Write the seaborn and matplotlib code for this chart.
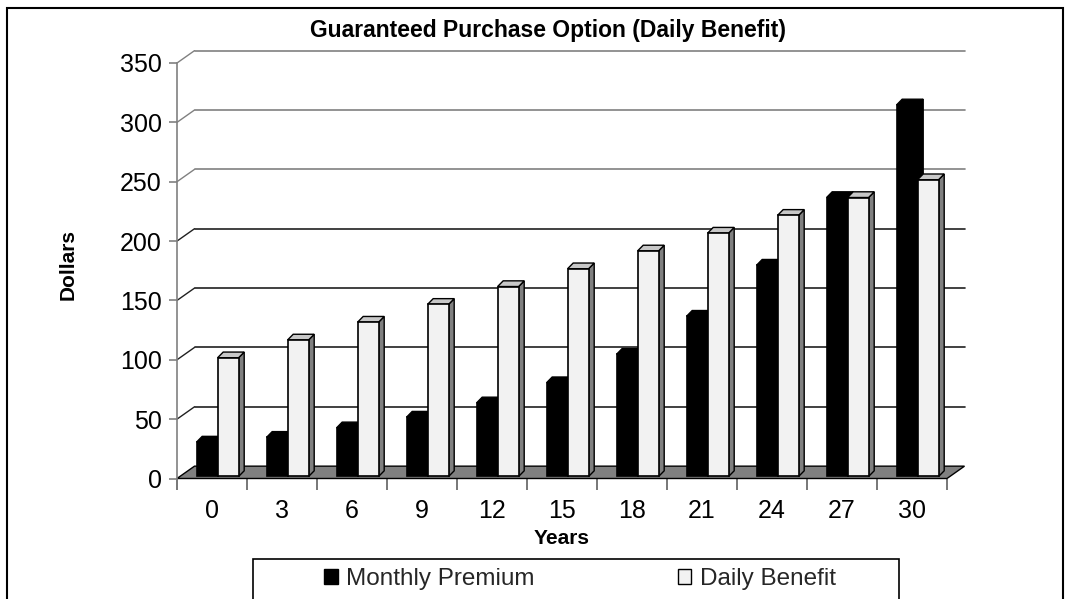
import matplotlib
matplotlib.use("Agg")
import matplotlib.pyplot as plt
from matplotlib.patches import Polygon, Rectangle, Patch
from matplotlib.lines import Line2D
import seaborn as sns
import pandas as pd
import numpy as np

# ---- data ----
years = ["0", "3", "6", "9", "12", "15", "18", "21", "24", "27", "30"]
monthly_premium = [29, 33, 41, 50, 62, 79, 103, 135, 178, 235, 313]
daily_benefit = [100, 115, 130, 145, 160, 175, 190, 205, 220, 235, 250]
series_names = ["Monthly Premium", "Daily Benefit"]
y_ticks = [0, 50, 100, 150, 200, 250, 300, 350]

df = pd.DataFrame({
    "Years": years * 2,
    "Dollars": monthly_premium + daily_benefit,
    "Series": [series_names[0]] * len(years) + [series_names[1]] * len(years),
})

sns.set_theme(style="white")
plt.rcParams["font.family"] = ["Liberation Sans", "DejaVu Sans"]

W, H = 1065, 599
fig = plt.figure(figsize=(W / 100, H / 100), dpi=100)
fig.patch.set_facecolor("white")

# axes = front plane of the 3-D chart
ax_l, ax_r, ax_top, ax_bot = 177, 947, 63, 478.5
ax = fig.add_axes([ax_l / W, (H - ax_bot) / H, (ax_r - ax_l) / W, (ax_bot - ax_top) / H])
ax.set_facecolor("none")

front_col = "black"
light_col = "#F2F2F2"
sns.barplot(data=df, x="Years", y="Dollars", hue="Series", palette=[front_col, light_col],
            width=0.6, edgecolor="black", linewidth=1.2, saturation=1, legend=False, ax=ax)

n = len(years)
ax.set_xlim(-0.5, n - 0.5)
ax.set_ylim(0, 350)

# wall depth (category units / data units)
Dx, Dy = 0.25, 10.4
# bar depth
bdx, bdy = 0.08, 4.8
# bars set back a little from the front edge of the floor
ox, oy = 0.08, 1.7

# back wall gridlines and left-wall diagonals
for v in y_ticks[1:]:
    c = "#808080" if v >= 250 else "#202020"
    ax.add_line(Line2D([-0.5 + Dx, n - 0.5 + Dx], [v + Dy, v + Dy], color=c, lw=1.2,
                       clip_on=False, zorder=0.5))
    ax.add_line(Line2D([-0.5, -0.5 + Dx], [v, v + Dy], color=c, lw=1.0,
                       clip_on=False, zorder=0.5))

# floor
floor = Polygon([[-0.5, 0], [n - 0.5, 0], [n - 0.5 + Dx, Dy], [-0.5 + Dx, Dy]],
                closed=True, facecolor="#808080", edgecolor="black", lw=1.0,
                clip_on=False, zorder=1)
ax.add_patch(floor)

# 3-D faces of bars
for k, cont in enumerate(ax.containers):
    for p in cont.patches:
        p.set_x(p.get_x() + ox)
        p.set_y(oy)
        p.set_clip_on(False)
        x, w, h = p.get_x(), p.get_width(), p.get_height()
        top = oy + h
        if k == 0:
            top_c, side_c, zf, zx = "black", "black", 2.5, 2.4
        else:
            top_c, side_c, zf, zx = "#C8C8C8", "#808080", 4.0, 3.5
        p.set_zorder(zf)
        top_face = Polygon([[x, top], [x + w, top], [x + w + bdx, top + bdy], [x + bdx, top + bdy]],
                           closed=True, facecolor=top_c, edgecolor="black", lw=1.0,
                           clip_on=False, zorder=zx)
        side_face = Polygon([[x + w, oy], [x + w + bdx, oy + bdy], [x + w + bdx, top + bdy], [x + w, top]],
                            closed=True, facecolor=side_c, edgecolor="black", lw=1.0,
                            clip_on=False, zorder=zx)
        ax.add_patch(side_face)
        ax.add_patch(top_face)

# spines / ticks
for s in ["top", "right", "bottom"]:
    ax.spines[s].set_visible(False)
ax.spines["left"].set_color("#808080")
ax.spines["left"].set_linewidth(1.2)

ax.set_yticks(y_ticks)
ax.set_yticklabels([str(v) for v in y_ticks])
ax.tick_params(axis="y", which="major", direction="out", length=6, width=1.2, color="#808080",
               pad=5, labelsize=18, labelcolor="black", left=True)
ax.set_xticks(range(n))
ax.set_xticklabels(years)
ax.set_xticks(np.arange(-0.5, n, 1.0), minor=True)
ax.tick_params(axis="x", which="major", length=0, pad=15, labelsize=18, labelcolor="black",
               bottom=True)
ax.tick_params(axis="x", which="minor", direction="out", length=8, width=1.2, color="#606060",
               bottom=True)
ax.set_xlabel("")
ax.set_ylabel("")
ax.grid(False)

# texts
fig.text(548 / W, 1 - 30 / H, "Guaranteed Purchase Option (Daily Benefit)", ha="center", va="center",
         fontsize=16.5, fontweight="bold", color="black")
fig.text(68 / W, 1 - 264 / H, "Dollars", ha="center", va="center", rotation=90,
         fontsize=15, fontweight="bold", color="black")
fig.text(562 / W, 1 - 539 / H, "Years", ha="center", va="center",
         fontsize=15, fontweight="bold", color="black")

# legend
handles = [Patch(facecolor=front_col, edgecolor="black", lw=1.0),
           Patch(facecolor=light_col, edgecolor="black", lw=1.0)]
fig.legend(handles, series_names, loc="center", bbox_to_anchor=(580 / W, 1 - 579 / H), ncol=2,
           frameon=False, fontsize=17.5, handlelength=0.55, handleheight=0.55, handletextpad=0.35,
           columnspacing=5.9, borderpad=0)
fig.add_artist(Rectangle((253 / W, -0.05), (899 - 253) / W, 0.05 + (H - 559) / H,
                         transform=fig.transFigure, facecolor="none", edgecolor="black", lw=1.2))

# outer chart border
fig.add_artist(Rectangle((7 / W, -0.05), (1063 - 7) / W, 0.05 + (H - 8) / H,
                         transform=fig.transFigure, facecolor="none", edgecolor="black", lw=1.5))

fig.savefig("out.png", dpi=100, facecolor="white")
